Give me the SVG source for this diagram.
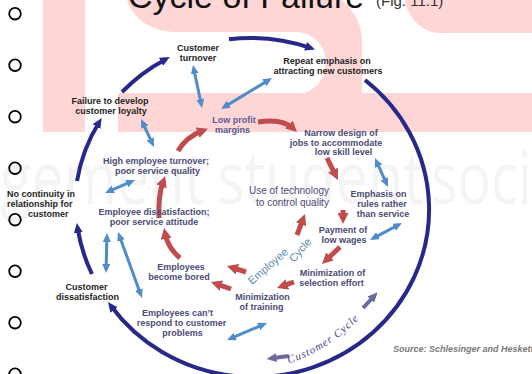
<svg xmlns="http://www.w3.org/2000/svg" width="532" height="374" viewBox="0 0 532 374">
<style>
.t{font-family:"Liberation Sans",Arial,sans-serif;font-size:9px;font-weight:bold;text-anchor:middle}
.c{fill:#1e1e1e}
.e{fill:#4b4b74}
.lp{fill:#5a5a8e}
.tech{font-weight:normal;font-size:10px;fill:#4b4b74}
.nv{fill:none;stroke:#28288a;stroke-width:4;marker-end:url(#mNavy)}
.bl{fill:none;stroke:#4f8cca;stroke-width:3;marker-start:url(#mBlue);marker-end:url(#mBlue)}
.rd{fill:none;stroke:#bf4d4d;stroke-width:5;marker-end:url(#mRed)}
.pu{fill:none;stroke:#6a6a9c;stroke-width:4;marker-end:url(#mPur)}
.pink{fill:#ffd6d6}
.bul{fill:none;stroke:#000;stroke-width:1.8}
.wm{font-family:"Open Sans","Liberation Sans",sans-serif;font-size:56px;fill:#f4f4f4}
</style>
<defs>
<marker id="mNavy" viewBox="0 0 10 9" refX="5" refY="4.5" markerWidth="10" markerHeight="9" markerUnits="userSpaceOnUse" orient="auto"><path d="M0,0 L10,4.5 L0,9 Z" fill="#28288a"/></marker>
<marker id="mBlue" viewBox="0 0 9 8" refX="5" refY="4" markerWidth="9" markerHeight="8" markerUnits="userSpaceOnUse" orient="auto-start-reverse"><path d="M0,0 L9,4 L0,8 Z" fill="#4f8cca"/></marker>
<marker id="mRed" viewBox="0 0 11 11" refX="5.5" refY="5.5" markerWidth="11" markerHeight="11" markerUnits="userSpaceOnUse" orient="auto"><path d="M0,0 L11,5.5 L0,11 Z" fill="#bf4d4d"/></marker>
<marker id="mPur" viewBox="0 0 10 9" refX="5" refY="4.5" markerWidth="10" markerHeight="9" markerUnits="userSpaceOnUse" orient="auto"><path d="M0,0 L10,4.5 L0,9 Z" fill="#6a6a9c"/></marker>
</defs>
<rect width="532" height="374" fill="#fff"/>
<g id="watermark">
<rect class="pink" x="43" y="0" width="42" height="132"/>
<path class="pink" d="M127,0 L342,0 C352,10 362,22 362,40 L362,93 L532,93 L532,132 L118,132 L118,93 L305,93 C318,88 326,76 326,62 C326,45 312,32 295,32 L175,32 C152,32 132,18 127,0 Z"/>
<path class="pink" d="M405,0 L532,0 L532,33 L440,33 C422,33 408,18 405,0 Z"/>
<g transform="translate(0,204) scale(1,1.3)">
<text class="wm" x="0" y="0" textLength="205" lengthAdjust="spacingAndGlyphs">gement</text>
<text class="wm" x="217" y="0" textLength="207" lengthAdjust="spacingAndGlyphs">student</text>
<text class="wm" x="431" y="0" textLength="180" lengthAdjust="spacingAndGlyphs">society</text>
</g>
</g>
<g id="title">
<text x="128" y="8" font-family="Liberation Sans,Arial,sans-serif" font-size="34" fill="#111">Cycle of Failure</text>
<text x="376" y="6" font-family="Liberation Sans,Arial,sans-serif" font-size="15" fill="#333">(Fig. 11.1)</text>
</g>
<g id="bullets">
<circle class="bul" cx="15" cy="13.7" r="5.8"/>
<circle class="bul" cx="15" cy="65.2" r="5.8"/>
<circle class="bul" cx="15" cy="116.7" r="5.8"/>
<circle class="bul" cx="15" cy="168.2" r="5.8"/>
<circle class="bul" cx="15" cy="219.7" r="5.8"/>
<circle class="bul" cx="15" cy="271.2" r="5.8"/>
<circle class="bul" cx="15" cy="322.7" r="5.8"/>
<circle class="bul" cx="15" cy="374.2" r="5.8"/>
</g>
<g id="connectors">
<path class="nv" d="M229,39.3 A175,167.5 0 0 1 310.3,47.9"/>
<path class="nv" d="M365,80 A175,167.5 0 1 1 111,306"/>
<path class="nv" d="M92,274 A175,167.5 0 0 1 77.6,227.9"/>
<path class="nv" d="M77,181 A175,167.5 0 0 1 99.1,122.3"/>
<path class="nv" d="M122,92 A175,167.5 0 0 1 165.4,59.4"/>
<path class="bl" d="M193.8,68.9 L201.2,104.1"/>
<path class="bl" d="M268.6,80.1 L224.4,106.9"/>
<path class="bl" d="M142.7,122.6 L152.3,143.4"/>
<path class="bl" d="M131.3,181.6 L108.7,191.4"/>
<path class="bl" d="M106.9,237 L106.1,269"/>
<path class="bl" d="M119.4,235.8 L140.6,294.2"/>
<path class="bl" d="M376.6,161.6 L386.4,183.4"/>
<path class="bl" d="M373.5,238.1 L398.5,224.9"/>
<path class="bl" d="M230.7,338.4 L263.3,324.6"/>
<path class="rd" d="M178,151 Q186,137 202.8,130.7"/>
<path class="rd" d="M258,122 Q282,118 293,128.3"/>
<path class="rd" d="M327,158 L335.5,175.1"/>
<path class="rd" d="M343,210 L343,218.5"/>
<path class="rd" d="M340,247 L326,260.2"/>
<path class="rd" d="M294,282 L282.2,286.2"/>
<path class="rd" d="M231,289 L216.2,283.8"/>
<path class="rd" d="M246,272 L232.2,267.7"/>
<path class="rd" d="M297,235 L303,219.1"/>
<path class="rd" d="M180,258 Q168,248 165.1,233.4"/>
<path class="rd" d="M159,218 Q158,195 163.3,181.2"/>
<path class="pu" d="M363,308 L374.2,296"/>
<path class="pu" d="M289,356 L271.5,358.3"/>
<path id="custArc" d="M284,365 Q335,350 372,304" fill="none"/>
<text font-family="Liberation Serif,Times New Roman,serif" font-style="italic" font-size="11" fill="#3f3f8f" letter-spacing="1"><textPath href="#custArc" startOffset="5">Customer Cycle</textPath></text>
<text x="252" y="285" transform="rotate(-41 252 285)" font-family="Liberation Sans,Arial,sans-serif" font-size="11" fill="#5d8fb5">Employee</text>
<text x="294" y="263" transform="rotate(-49 294 263)" font-family="Liberation Sans,Arial,sans-serif" font-size="11" fill="#5d8fb5">Cycle</text>
</g>
<g id="customer-turnover"><text class="t c" x="198" y="50.5">Customer</text><text class="t c" x="198" y="60.5">turnover</text></g>
<g id="repeat-emphasis"><text class="t c" x="327" y="64">Repeat emphasis on</text><text class="t c" x="328" y="73.5">attracting new customers</text></g>
<g id="failure-loyalty"><text class="t c" x="110" y="104">Failure to develop</text><text class="t c" x="111" y="114">customer loyalty</text></g>
<g id="no-continuity"><text class="t c" x="7" y="197" style="text-anchor:start">No continuity in</text><text class="t c" x="7" y="207" style="text-anchor:start">relationship for</text><text class="t c" x="28" y="216.5" style="text-anchor:start">customer</text></g>
<g id="customer-dissatisfaction"><text class="t c" x="86.5" y="290">Customer</text><text class="t c" x="87.5" y="299.5">dissatisfaction</text></g>
<g id="high-turnover"><text class="t e" x="156" y="164">High employee turnover;</text><text class="t e" x="157.5" y="173.5">poor service quality</text></g>
<g id="employee-dissatisfaction"><text class="t e" x="154" y="215">Employee dissatisfaction;</text><text class="t e" x="154" y="225">poor service attitude</text></g>
<g id="low-profit"><text class="t lp" x="234" y="123">Low profit</text><text class="t lp" x="232.5" y="132.5">margins</text></g>
<g id="narrow-design"><text class="t e" x="341" y="136">Narrow design of</text><text class="t e" x="336" y="145.5">jobs to accommodate</text><text class="t e" x="343.5" y="155">low skill level</text></g>
<g id="technology"><text class="t tech" x="289" y="194">Use of technology</text><text class="t tech" x="292.5" y="206">to control quality</text></g>
<g id="emphasis-rules"><text class="t e" x="378.5" y="197">Emphasis on</text><text class="t e" x="382" y="207">rules rather</text><text class="t e" x="383" y="217">than service</text></g>
<g id="payment"><text class="t e" x="343" y="233">Payment of</text><text class="t e" x="344" y="242.5">low wages</text></g>
<g id="selection"><text class="t e" x="332.5" y="276">Minimization of</text><text class="t e" x="331.5" y="286">selection effort</text></g>
<g id="training"><text class="t e" x="262.5" y="300">Minimization</text><text class="t e" x="261.5" y="310">of training</text></g>
<g id="bored"><text class="t e" x="181" y="270">Employees</text><text class="t e" x="179" y="280">become bored</text></g>
<g id="cant-respond"><text class="t e" x="177.5" y="316">Employees can’t</text><text class="t e" x="181.5" y="326">respond to customer</text><text class="t e" x="182.5" y="336">problems</text></g>
<g id="source"><text x="393" y="352" font-family="Liberation Sans,Arial,sans-serif" font-size="9" font-style="italic" font-weight="bold" fill="#7a7a7a">Source: Schlesinger and Heskett</text></g>
</svg>
